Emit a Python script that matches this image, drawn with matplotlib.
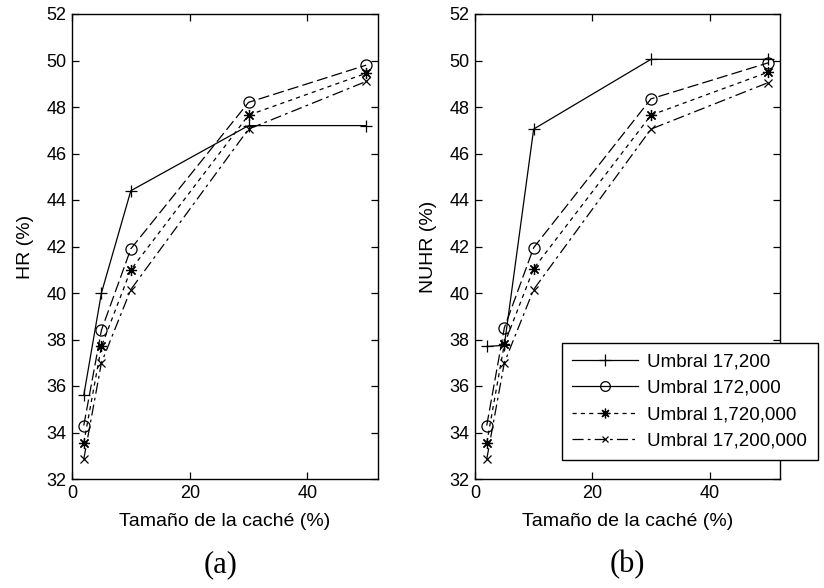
import matplotlib
matplotlib.use("Agg")
import matplotlib.pyplot as plt
from matplotlib.lines import Line2D

plt.rcParams['font.family'] = ['Liberation Sans', 'DejaVu Sans']
plt.rcParams['lines.scale_dashes'] = False

cache_size = [2, 5, 10, 30, 50]
labels = ["Umbral 17,200", "Umbral 172,000", "Umbral 1,720,000", "Umbral 17,200,000"]

hr_17200 = [35.6, 40.0, 44.4, 47.2, 47.2]
hr_172000 = [34.3, 38.4, 41.9, 48.2, 49.8]
hr_1720000 = [33.55, 37.7, 41.0, 47.65, 49.45]
hr_17200000 = [32.85, 37.0, 40.15, 47.05, 49.1]

nuhr_17200 = [37.7, 37.75, 47.05, 50.05, 50.05]
nuhr_172000 = [34.3, 38.5, 41.95, 48.35, 49.9]
nuhr_1720000 = [33.55, 37.8, 41.05, 47.65, 49.5]
nuhr_17200000 = [32.85, 37.0, 40.15, 47.05, 49.05]

styles = [
    dict(marker='+', linestyle='-', ms=9),
    dict(marker='o', linestyle=(0, (8, 3)), ms=8),
    dict(marker=(8, 2, 0), linestyle=(0, (3, 3)), ms=8),
    dict(marker='x', linestyle=(0, (8, 3, 2, 3)), ms=6),
]
legend_ls = ['-', '-', (0, (3, 3)), (0, (8, 3, 2, 3))]

fig = plt.figure(figsize=(8.24, 5.88), dpi=100)
W, H = 824, 588
axA = fig.add_axes([72 / W, 1 - 479 / H, 306 / W, 465 / H])
axB = fig.add_axes([475 / W, 1 - 479 / H, 305 / W, 465 / H])

for ax, series, ylab in [
    (axA, [hr_17200, hr_172000, hr_1720000, hr_17200000], "HR (%)"),
    (axB, [nuhr_17200, nuhr_172000, nuhr_1720000, nuhr_17200000], "NUHR (%)"),
]:
    for vals, st in zip(series, styles):
        ax.plot(cache_size, vals, color='black', lw=0.9, marker=st['marker'],
                linestyle=st['linestyle'], markersize=st['ms'],
                markerfacecolor='none', markeredgecolor='black', markeredgewidth=0.9)
    ax.set_xlim(0, 52)
    ax.set_ylim(32, 52)
    ax.set_xticks([0, 20, 40])
    ax.set_yticks(range(32, 53, 2))
    ax.tick_params(direction='in', length=5, width=0.9, top=True, right=True,
                   labelsize=13, pad=4)
    for sp in ax.spines.values():
        sp.set_linewidth(1.0)
    ax.set_xlabel("Tamaño de la caché (%)", fontsize=14, labelpad=8)
    ax.set_ylabel(ylab, fontsize=14, labelpad=9)

handles = []
for st, ls, lab in zip(styles, legend_ls, labels):
    handles.append(Line2D([], [], color='black', lw=0.9, marker=st['marker'],
                          linestyle=ls, markersize=st['ms'] - 1,
                          markerfacecolor='none', markeredgecolor='black',
                          markeredgewidth=0.9, label=lab))
leg = fig.legend(handles=handles, loc='upper left',
                 bbox_to_anchor=(562 / W, 1 - 343 / H), borderaxespad=0,
                 fontsize=13.5, handlelength=3.5, frameon=True, fancybox=False,
                 borderpad=0.55, labelspacing=0.5, handletextpad=0.5)
leg.get_frame().set_edgecolor('black')
leg.get_frame().set_linewidth(1.0)
leg.get_frame().set_alpha(1)

fig.text(221 / W, 1 - 565 / H, "(a)", family=['Liberation Serif', 'DejaVu Serif'],
         fontsize=22, ha='center', va='center')
fig.text(627 / W, 1 - 565 / H, "(b)", family=['Liberation Serif', 'DejaVu Serif'],
         fontsize=22, ha='center', va='center')

fig.savefig("out.png", dpi=100)
